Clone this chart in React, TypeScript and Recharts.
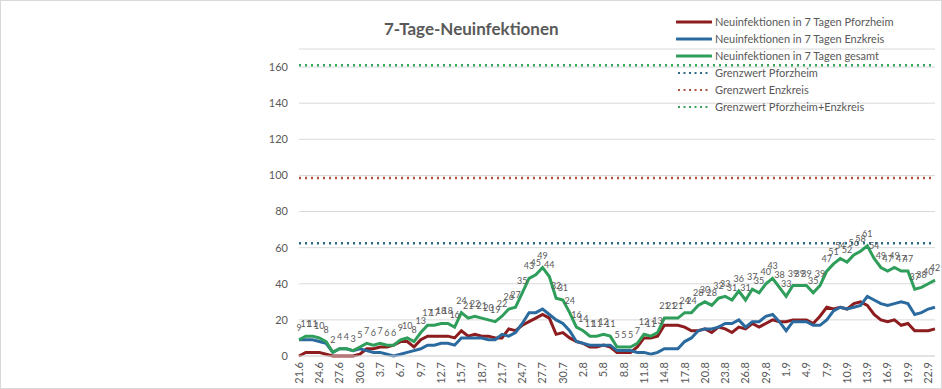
import React from 'react'
import { LineChart, Line, XAxis, YAxis, CartesianGrid, ReferenceLine, LabelList, Legend } from 'recharts'

const dates = [
  '21.6', '22.6', '23.6', '24.6', '25.6', '26.6', '27.6', '28.6', '29.6', '30.6',
  '1.7', '2.7', '3.7', '4.7', '5.7', '6.7', '7.7', '8.7', '9.7', '10.7',
  '11.7', '12.7', '13.7', '14.7', '15.7', '16.7', '17.7', '18.7', '19.7', '20.7',
  '21.7', '22.7', '23.7', '24.7', '25.7', '26.7', '27.7', '28.7', '29.7', '30.7',
  '31.7', '1.8', '2.8', '3.8', '4.8', '5.8', '6.8', '7.8', '8.8', '9.8',
  '10.8', '11.8', '12.8', '13.8', '14.8', '15.8', '16.8', '17.8', '18.8', '19.8',
  '20.8', '21.8', '22.8', '23.8', '24.8', '25.8', '26.8', '27.8', '28.8', '29.8',
  '30.8', '31.8', '1.9', '2.9', '3.9', '4.9', '5.9', '6.9', '7.9', '8.9',
  '9.9', '10.9', '11.9', '12.9', '13.9', '14.9', '15.9', '16.9', '17.9', '18.9',
  '19.9', '20.9', '21.9', '22.9', '23.9',
]

const pforzheim = [
  0, 2, 2, 2, 1, 0, 0, 0, 0, 1,
  4, 4, 5, 5, 6, 8, 8, 5, 9, 11,
  11, 11, 11, 10, 14, 11, 12, 11, 11, 10,
  10, 15, 14, 17, 19, 21, 23, 21, 12, 13,
  10, 8, 7, 5, 5, 6, 5, 2, 2, 2,
  5, 10, 10, 11, 17, 17, 17, 16, 14, 14,
  15, 13, 16, 15, 13, 16, 15, 18, 16, 18,
  20, 19, 19, 20, 20, 20, 18, 22, 27, 26,
  27, 26, 29, 30, 28, 23, 20, 19, 20, 17,
  18, 14, 14, 14, 15,
]

const enzkreis = [
  9, 9, 9, 8, 7, 2, 4, 4, 3, 4,
  3, 2, 2, 1, 0, 1, 2, 3, 4, 6,
  6, 7, 7, 6, 10, 10, 10, 10, 9, 9,
  12, 11, 13, 18, 24, 24, 26, 23, 20, 18,
  14, 8, 7, 6, 6, 6, 6, 3, 3, 3,
  2, 2, 1, 2, 4, 4, 4, 8, 10, 14,
  15, 15, 16, 18, 18, 20, 16, 19, 19, 22,
  23, 19, 14, 19, 19, 19, 17, 17, 20, 25,
  27, 26, 27, 28, 33, 31, 29, 28, 29, 30,
  29, 23, 24, 26, 27,
]

const gesamt = [
  9, 11, 11, 10, 8, 2, 4, 4, 3, 5,
  7, 6, 7, 6, 6, 9, 10, 8, 13, 17,
  17, 18, 18, 16, 24, 21, 22, 21, 20, 19,
  22, 26, 27, 35, 43, 45, 49, 44, 32, 31,
  24, 16, 14, 11, 11, 12, 11, 5, 5, 5,
  7, 12, 11, 13, 21, 21, 21, 24, 24, 28,
  30, 28, 32, 33, 31, 36, 31, 37, 35, 40,
  43, 38, 33, 39, 39, 39, 35, 39, 47, 51,
  54, 52, 56, 58, 61, 54, 49, 47, 49, 47,
  47, 37, 38, 40, 42,
]

const yTicks = [0, 20, 40, 60, 80, 100, 120, 140, 160]

const seriesNames = [
  'Neuinfektionen in 7 Tagen Pforzheim',
  'Neuinfektionen in 7 Tagen Enzkreis',
  'Neuinfektionen in 7 Tagen gesamt',
]
const seriesColors = ['#8c1c1e', '#2b6a9f', '#2f9e5a']

const limitNames = ['Grenzwert Pforzheim', 'Grenzwert Enzkreis', 'Grenzwert Pforzheim+Enzkreis']
const limitValues = [62.5, 98.5, 161]
const limitColors = ['#2f6a86', '#b0533f', '#3aa45e']

const data = dates.map((d, i) => ({
  date: d,
  pforzheim: pforzheim[i],
  enzkreis: enzkreis[i],
  gesamt: gesamt[i],
}))

const font = 'Lato, "Open Sans", sans-serif'
const textColor = '#595959'

function DateTick({ x, y, payload }: any) {
  return (
    <text
      x={x}
      y={y}
      dy="0.35em"
      transform={`rotate(-90, ${x}, ${y})`}
      textAnchor="end"
      fontSize={11}
      fill={textColor}
      fontFamily={font}
    >
      {payload.value}
    </text>
  )
}

function LegendBox() {
  const rows = [
    ...seriesNames.map((n, i) => ({ name: n, color: seriesColors[i], dotted: false })),
    ...limitNames.map((n, i) => ({ name: n, color: limitColors[i], dotted: true })),
  ]
  return (
    <div style={{ fontFamily: font, fontSize: 11, color: textColor }}>
      {rows.map(r => (
        <div key={r.name} style={{ display: 'flex', alignItems: 'center', height: 17 }}>
          <svg width={36} height={6} style={{ marginRight: 3 }}>
            {r.dotted ? (
              <line x1={2} y1={3} x2={34} y2={3} stroke={r.color} strokeWidth={2} strokeDasharray="2 3.5" />
            ) : (
              <line x1={1} y1={3} x2={35} y2={3} stroke={r.color} strokeWidth={3} strokeLinecap="round" />
            )}
          </svg>
          <span>{r.name}</span>
        </div>
      ))}
    </div>
  )
}

export default function App() {
  return (
    <div
      style={{
        position: 'absolute',
        left: 0,
        top: 0,
        width: 942,
        height: 389,
        background: '#fff',
        border: '1px solid #d9d9d9',
        boxSizing: 'border-box',
      }}
    >
      <div
        style={{
          position: 'absolute',
          left: 383,
          top: 17,
          fontFamily: font,
          fontSize: 17,
          fontWeight: 700,
          color: textColor,
          whiteSpace: 'nowrap',
        }}
      >
        7-Tage-Neuinfektionen
      </div>
      <div style={{ position: 'absolute', left: -1, top: -1 }}>
        <LineChart width={942} height={389} data={data} margin={{ top: 49, right: 7, bottom: 0, left: 0 }}>
          <CartesianGrid vertical={false} stroke="#d9d9d9" />
          <XAxis
            dataKey="date"
            interval={2}
            tick={<DateTick />}
            tickLine={false}
            tickSize={0}
            tickMargin={6}
            height={33}
            stroke="#d9d9d9"
          />
          <YAxis
            domain={[0, 170]}
            ticks={yTicks}
            width={39}
            axisLine={false}
            tickLine={false}
            tickSize={0}
            tickMargin={11}
            tick={{ fontSize: 11, fill: textColor, fontFamily: font }}
          />
          {limitValues.map((v, i) => (
            <ReferenceLine
              key={limitNames[i]}
              y={v}
              stroke={limitColors[i]}
              strokeWidth={2.5}
              strokeDasharray="2 4"
            />
          ))}
          <Line
            type="linear"
            dataKey="pforzheim"
            name={seriesNames[0]}
            stroke={seriesColors[0]}
            strokeWidth={3}
            dot={false}
            isAnimationActive={false}
          />
          <Line
            type="linear"
            dataKey="enzkreis"
            name={seriesNames[1]}
            stroke={seriesColors[1]}
            strokeWidth={3}
            dot={false}
            isAnimationActive={false}
          />
          <Line
            type="linear"
            dataKey="gesamt"
            name={seriesNames[2]}
            stroke={seriesColors[2]}
            strokeWidth={3}
            dot={false}
            isAnimationActive={false}
          >
            <LabelList
              dataKey="gesamt"
              position="top"
              offset={9}
              fontSize={9}
              fill={textColor}
              fontFamily='"Liberation Sans Narrow", Lato, sans-serif'
            />
          </Line>
          <Legend
            layout="horizontal"
            verticalAlign="middle"
            align="left"
            content={<LegendBox />}
            wrapperStyle={{ left: 676, top: 13, width: 260 }}
          />
        </LineChart>
      </div>
    </div>
  )
}
